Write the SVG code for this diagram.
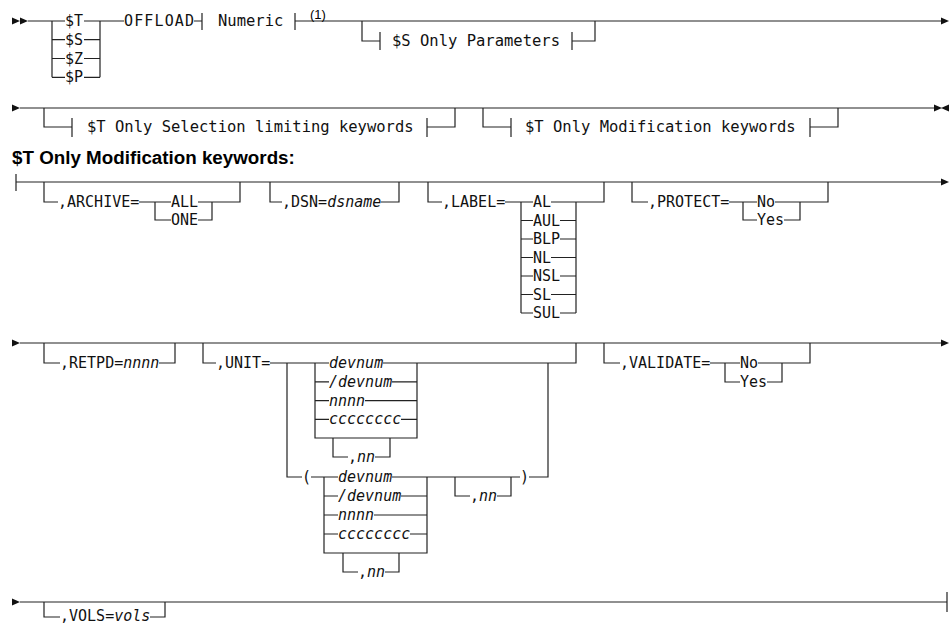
<svg xmlns="http://www.w3.org/2000/svg" width="949" height="626" viewBox="0 0 949 626">
<style>
.c{fill:none;stroke:#222;stroke-width:1.2}
.t{font-family:"DejaVu Sans Mono","Liberation Mono",monospace;font-size:15px;fill:#111}
.f{font-size:15.5px}
.i{font-style:italic}
.h{font-family:"Liberation Sans",Arial,sans-serif;font-weight:bold;font-size:18.8px;fill:#000}
.n{font-family:"Liberation Sans",Arial,sans-serif;font-size:13px;fill:#000}
.a{fill:#111}
</style>
<defs>
<path id="r" d="M0,-3.5 L8,0 L0,3.5Z"/>
<path id="l" d="M8,-3.5 L0,0 L8,3.5Z"/>
</defs>
<rect width="949" height="626" fill="#fff"/>
<g id="connectors">
<!-- row 1 -->
<use href="#r" x="12" y="21" class="a"/><use href="#r" x="20" y="21" class="a"/>
<path class="c" d="M28,21 H65 M84,21 H124 M52,21 V77.3 M100,21 V77.3
M52,39.7 H65 M84,39.7 H100 M52,58.5 H65 M84,58.5 H100 M52,77.3 H65 M84,77.3 H100
M194,21 H202 M202,13 V30 M295,13 V30 M295,21 H942
M362,21 V41 H380 M380,32 V50 M572,32 V50 M572,41 H595 V21"/>
<use href="#r" x="941" y="21" class="a"/>
<!-- row 2 -->
<use href="#r" x="12" y="108" class="a"/>
<path class="c" d="M20,108 H935 M44,108 V127 H72 M72,118 V137 M427,118 V137 M427,127 H455 V108
M483,108 V127 H511 M511,118 V137 M810,118 V137 M810,127 H838 V108"/>
<use href="#r" x="934" y="108" class="a"/><use href="#l" x="941" y="108" class="a"/>
<!-- row 3 -->
<path class="c" d="M16,174 V191 M16,182 H942
M44,182 V202 H58 M139,202 H171 M155,202 V220 H171 M198,202 H240 V182 M198,220 H212 V202
M270,182 V202 H282 M381,202 H399 V182
M428,182 V202 H442 M505,202 H533 M521,202 V313 M576,202 V313 M551,202 H604 V182
M521,220.5 H533 M560,220.5 H576 M521,239 H533 M560,239 H576 M521,257.5 H533 M551,257.5 H576
M521,276 H533 M560,276 H576 M521,294.5 H533 M551,294.5 H576 M521,313 H533 M560,313 H576
M632,182 V202 H648 M729,202 H757 M743,202 V220 H757 M775,202 H828 V182 M784,220 H800 V202"/>
<use href="#r" x="941" y="182" class="a"/>
<!-- row 4 -->
<use href="#r" x="12" y="343" class="a"/>
<path class="c" d="M20,343 H942
M44,343 V363 H60 M159,363 H175 V343
M203,343 V363 H216 M270,363 H329 M383,363 H576 V343
M315,363 V438 H417 V363 M315,381.8 H329 M392,381.8 H417 M315,400.6 H329 M365,400.6 H417 M315,419.4 H329 M401,419.4 H417
M333,438 V457 H348 M375,457 H390 V438
M287,363 V477 H302 M311,477 H338
M324,477 V553 H427 V477 M392,477 H520
M324,496 H338 M401,496 H427 M324,515 H338 M374,515 H427 M324,534 H338 M410,534 H427
M343,553 V572 H358 M385,572 H399 V553
M455,477 V496 H470 M497,496 H511 V477
M529,477 H548 V363
M604,343 V363 H620 M710,363 H740 M725,363 V382 H740 M758,363 H810 V343 M767,382 H782 V363"/>
<use href="#r" x="941" y="343" class="a"/>
<!-- row 5 -->
<use href="#r" x="12" y="602" class="a"/>
<path class="c" d="M20,602 H947 M947,592 V612 M44,602 V617 H60 M150,617 H165 V602"/>
</g>
<g id="n-st"><text class="t" x="65" y="26">$T</text></g>
<g id="n-ss"><text class="t" x="65" y="44.7">$S</text></g>
<g id="n-sz"><text class="t" x="65" y="63.5">$Z</text></g>
<g id="n-sp"><text class="t" x="65" y="82.3">$P</text></g>
<g id="n-offload"><text class="t" x="124" y="26" textLength="70">OFFLOAD</text></g>
<g id="n-numeric"><text class="t f" x="218" y="26">Numeric</text></g>
<g id="n-note"><text class="n" x="310" y="19">(1)</text></g>
<g id="n-sonly"><text class="t f" x="392" y="46">$S Only Parameters</text></g>
<g id="n-tsel"><text class="t f" x="87" y="132">$T Only Selection limiting keywords</text></g>
<g id="n-tmod"><text class="t f" x="525" y="132">$T Only Modification keywords</text></g>
<g id="n-heading"><text class="h" x="12" y="164">$T Only Modification keywords:</text></g>
<g id="n-archive"><text class="t" x="58" y="207">,ARCHIVE=</text></g>
<g id="n-all"><text class="t" x="171" y="207">ALL</text></g>
<g id="n-one"><text class="t" x="171" y="225">ONE</text></g>
<g id="n-dsn"><text class="t" x="282" y="207">,DSN=<tspan class="i">dsname</tspan></text></g>
<g id="n-label"><text class="t" x="442" y="207">,LABEL=</text></g>
<g id="n-al"><text class="t" x="533" y="207">AL</text></g>
<g id="n-aul"><text class="t" x="533" y="225.5">AUL</text></g>
<g id="n-blp"><text class="t" x="533" y="244">BLP</text></g>
<g id="n-nl"><text class="t" x="533" y="262.5">NL</text></g>
<g id="n-nsl"><text class="t" x="533" y="281">NSL</text></g>
<g id="n-sl"><text class="t" x="533" y="299.5">SL</text></g>
<g id="n-sul"><text class="t" x="533" y="318">SUL</text></g>
<g id="n-protect"><text class="t" x="648" y="207">,PROTECT=</text></g>
<g id="n-pno"><text class="t" x="757" y="207">No</text></g>
<g id="n-pyes"><text class="t" x="757" y="225">Yes</text></g>
<g id="n-retpd"><text class="t" x="60" y="368">,RETPD=<tspan class="i">nnnn</tspan></text></g>
<g id="n-unit"><text class="t" x="216" y="368">,UNIT=</text></g>
<g id="n-u1"><text class="t i" x="329" y="368">devnum</text></g>
<g id="n-u2"><text class="t i" x="329" y="386.8">/devnum</text></g>
<g id="n-u3"><text class="t i" x="329" y="405.6">nnnn</text></g>
<g id="n-u4"><text class="t i" x="329" y="424.4">cccccccc</text></g>
<g id="n-u5"><text class="t" x="348" y="462">,<tspan class="i">nn</tspan></text></g>
<g id="n-lp"><text class="t" x="302" y="482">(</text></g>
<g id="n-p1"><text class="t i" x="338" y="482">devnum</text></g>
<g id="n-p2"><text class="t i" x="338" y="501">/devnum</text></g>
<g id="n-p3"><text class="t i" x="338" y="520">nnnn</text></g>
<g id="n-p4"><text class="t i" x="338" y="539">cccccccc</text></g>
<g id="n-p5"><text class="t" x="358" y="577">,<tspan class="i">nn</tspan></text></g>
<g id="n-p6"><text class="t" x="470" y="501">,<tspan class="i">nn</tspan></text></g>
<g id="n-rp"><text class="t" x="520" y="482">)</text></g>
<g id="n-validate"><text class="t" x="620" y="368">,VALIDATE=</text></g>
<g id="n-vno"><text class="t" x="740" y="368">No</text></g>
<g id="n-vyes"><text class="t" x="740" y="387">Yes</text></g>
<g id="n-vols"><text class="t" x="60" y="621">,VOLS=<tspan class="i">vols</tspan></text></g>
</svg>
